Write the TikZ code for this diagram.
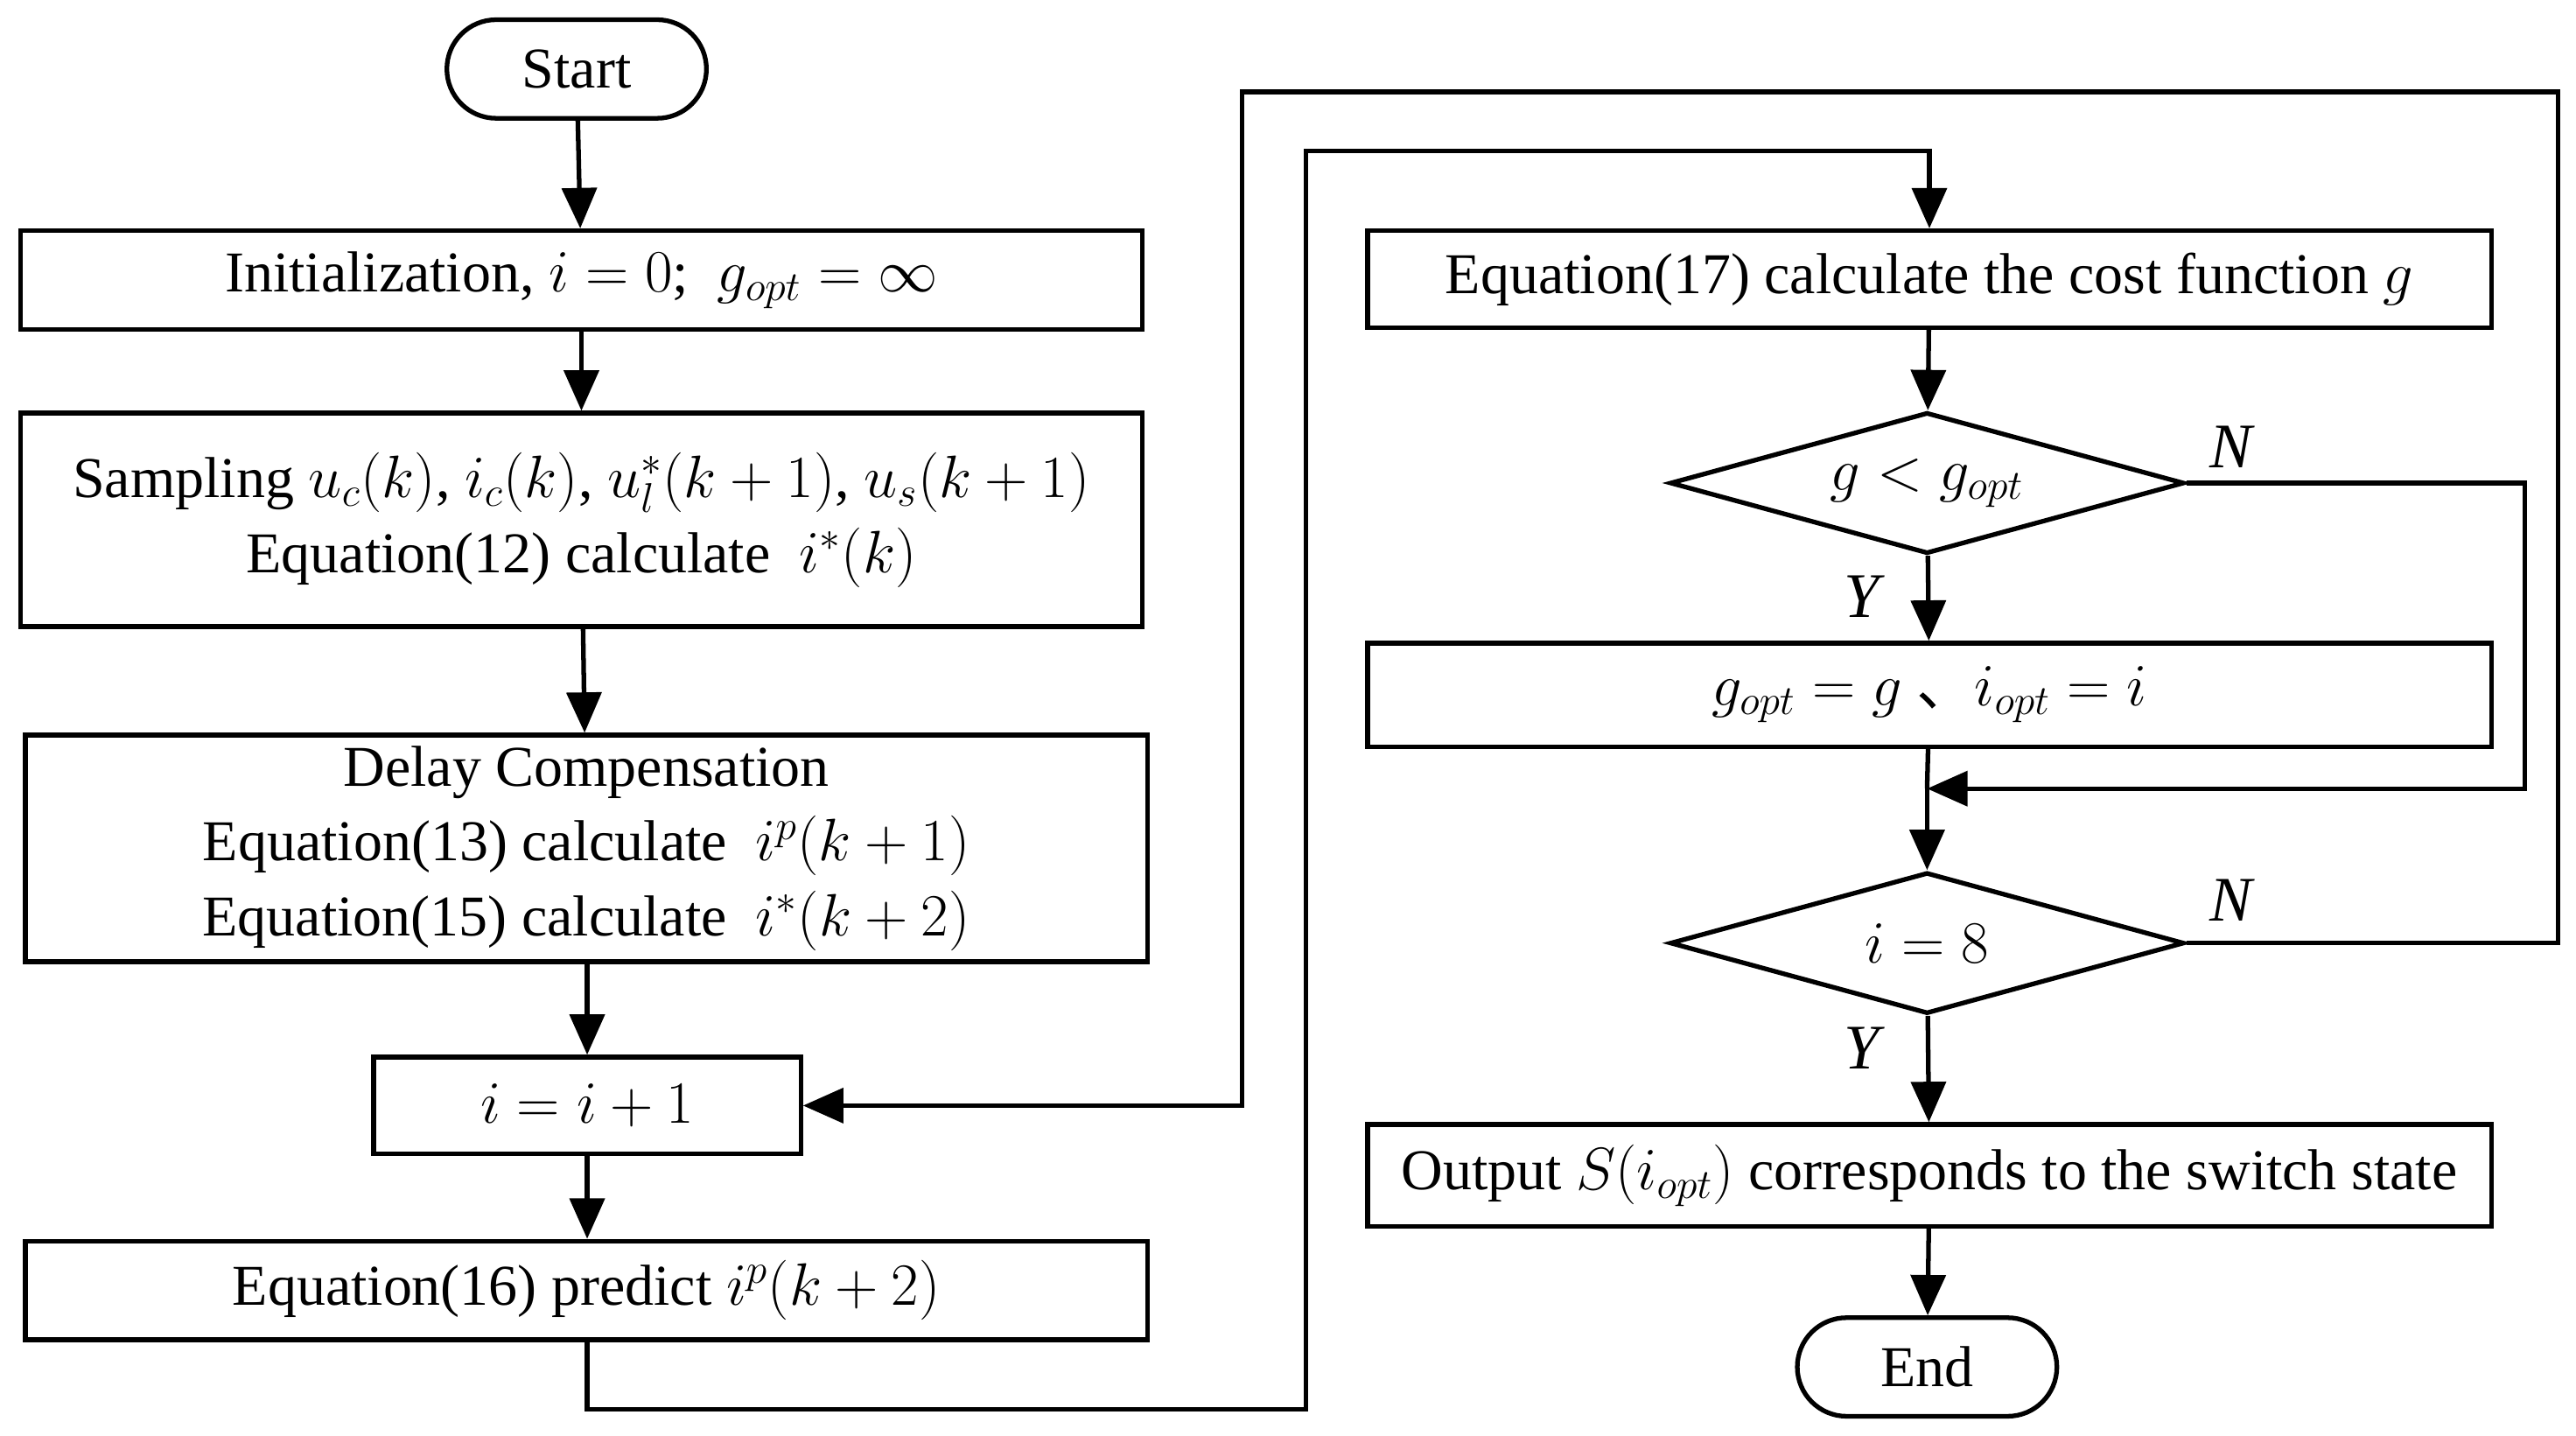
\documentclass[tikz,border=0pt]{standalone}
\usepackage{fontspec}
\setmainfont{Liberation Serif}
\newfontfamily\cjk{Noto Sans CJK SC}
\usetikzlibrary{shapes.geometric,arrows.meta}
\begin{document}
\begin{tikzpicture}[x=0.02cm,y=-0.02cm,
  every node/.style={font=\fontsize{20}{26}\selectfont},
  box/.style={draw,line width=1.6pt,minimum height=#1*0.02cm,inner sep=0pt,anchor=north west,align=center},
  term/.style={draw,line width=1.6pt,rounded corners=30*0.02cm,minimum width=158*0.02cm,minimum height=60*0.02cm},
  dia/.style={draw,line width=1.6pt,diamond,aspect=3.65,minimum width=313*0.02cm,minimum height=86*0.02cm,inner sep=0pt},
  ar/.style={line width=1.6pt,-{Triangle[width=12pt,length=14pt]}},
  ln/.style={line width=1.6pt},
  lab/.style={font=\fontsize{22}{25}\selectfont\itshape}]
\useasboundingbox (0,0) rectangle (1568,874);
\node[term] (start) at (351,42) {Start};
\node[box=60,minimum width=683*0.02cm] (init) at (11,139) {Initialization, $i=0$;\ \ $g_{opt}=\infty$};
\node[box=130,minimum width=683*0.02cm] (samp) at (11,250) {Sampling $u_c(k)$, $i_c(k)$, $u_l^*(k+1)$, $u_s(k+1)$\\ Equation(12) calculate\ \ $i^*(k)$};
\node[box=138,minimum width=683*0.02cm] (delay) at (14,446) {Delay Compensation\\ Equation(13) calculate\ \ $i^p(k+1)$\\ Equation(15) calculate\ \ $i^*(k+2)$};
\node[box=59,minimum width=260*0.02cm] (inc) at (226,642) {$i=i+1$};
\node[box=60,minimum width=683*0.02cm] (pred) at (14,754) {Equation(16) predict $i^p(k+2)$};
\node[box=59,minimum width=684*0.02cm] (cost) at (831,139) {Equation(17) calculate the cost function $g$};
\node[dia] (d1) at (1173,294) {$g<g_{opt}$};
\node[box=63,minimum width=684*0.02cm] (upd) at (831,390) {$g_{opt}=g$\ {\cjk 、}$i_{opt}=i$};
\node[dia] (d2) at (1173,574) {$i=8$};
\node[box=62,minimum width=684*0.02cm] (out) at (831,683) {Output $S(i_{opt})$ corresponds to the switch state};
\node[term] (end) at (1173,832) {End};
\coordinate (m) at (1173,480);
\draw[ar] (start) -- (init);
\draw[ar] (init) -- (samp);
\draw[ar] (samp) -- (delay);
\draw[ar] (delay.south -| inc.north) -- (inc);
\draw[ar] (inc) -- (pred.north -| inc.south);
\draw[ar] (pred.south -| inc.south) -- ++(0,41) -| (795,92) -| (cost.north);
\draw[ar] (cost) -- (d1);
\draw[ar] (d1) -- (upd);
\draw[ln] (upd) -- (m);
\draw[ar] (m) -- (d2);
\draw[ar] (d1.east) -- (1537,294) |- (m);
\draw[ar] (d2.east) -- (1557,574) |- (756,56) |- (inc.east);
\draw[ar] (d2) -- (out);
\draw[ar] (out) -- (end);
\node[lab] (n1) at (1358,272) {N};
\node[lab] (y1) at (1133,363) {Y};
\node[lab] (n2) at (1358,548) {N};
\node[lab] (y2) at (1133,638) {Y};
\end{tikzpicture}
\end{document}
